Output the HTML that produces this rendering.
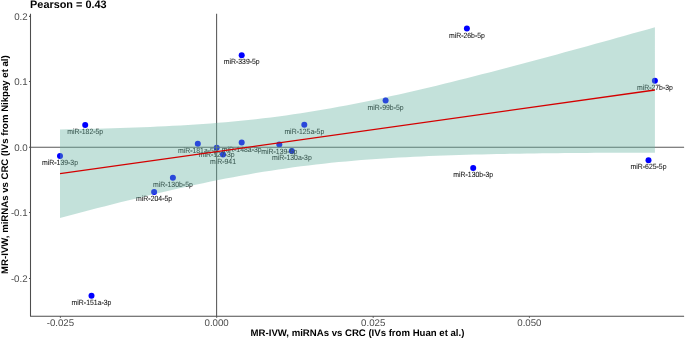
<!DOCTYPE html>
<html><head><meta charset="utf-8"><style>
html,body{margin:0;padding:0;background:#fff;width:685px;height:339px;overflow:hidden;font-family:"Liberation Sans",sans-serif;}
svg{display:block;will-change:transform}
</style></head><body>
<svg width="685" height="339" viewBox="0 0 685 339">
<rect width="685" height="339" fill="#fff"/>
<g text-rendering="geometricPrecision">
<g fill="#0000ff">
<circle cx="466.90" cy="28.40" r="3.0"/>
<circle cx="241.70" cy="55.30" r="3.0"/>
<circle cx="654.90" cy="80.80" r="3.0"/>
<circle cx="385.60" cy="100.50" r="3.0"/>
<circle cx="85.20" cy="124.90" r="3.0"/>
<circle cx="304.30" cy="124.80" r="3.0"/>
<circle cx="197.80" cy="143.70" r="3.0"/>
<circle cx="241.70" cy="142.40" r="3.0"/>
<circle cx="279.30" cy="144.40" r="3.0"/>
<circle cx="216.70" cy="147.80" r="3.0"/>
<circle cx="223.00" cy="154.40" r="3.0"/>
<circle cx="291.80" cy="150.90" r="3.0"/>
<circle cx="60.00" cy="156.10" r="3.0"/>
<circle cx="172.90" cy="177.70" r="3.0"/>
<circle cx="154.10" cy="192.10" r="3.0"/>
<circle cx="473.20" cy="167.90" r="3.0"/>
<circle cx="648.50" cy="160.20" r="3.0"/>
<circle cx="91.50" cy="295.80" r="3.0"/>
</g>
<g font-family="Liberation Sans" font-size="6.9" fill="#151515" stroke="#151515" stroke-width="0.06" text-anchor="middle">
<text transform="translate(466.90,37.50) scale(1,1.1)">miR<tspan stroke-width="0.22">-</tspan>26b<tspan stroke-width="0.22">-</tspan>5p</text>
<text transform="translate(241.70,64.40) scale(1,1.1)">miR<tspan stroke-width="0.22">-</tspan>339<tspan stroke-width="0.22">-</tspan>5p</text>
<text transform="translate(654.90,89.90) scale(1,1.1)">miR<tspan stroke-width="0.22">-</tspan>27b<tspan stroke-width="0.22">-</tspan>3p</text>
<text transform="translate(385.60,109.60) scale(1,1.1)">miR<tspan stroke-width="0.22">-</tspan>99b<tspan stroke-width="0.22">-</tspan>5p</text>
<text transform="translate(85.20,134.00) scale(1,1.1)">miR<tspan stroke-width="0.22">-</tspan>182<tspan stroke-width="0.22">-</tspan>5p</text>
<text transform="translate(304.30,133.90) scale(1,1.1)">miR<tspan stroke-width="0.22">-</tspan>125a<tspan stroke-width="0.22">-</tspan>5p</text>
<text transform="translate(197.80,152.80) scale(1,1.1)">miR<tspan stroke-width="0.22">-</tspan>181a<tspan stroke-width="0.22">-</tspan>5p</text>
<text transform="translate(241.70,151.50) scale(1,1.1)">miR<tspan stroke-width="0.22">-</tspan>148a<tspan stroke-width="0.22">-</tspan>3p</text>
<text transform="translate(279.30,153.50) scale(1,1.1)">miR<tspan stroke-width="0.22">-</tspan>139<tspan stroke-width="0.22">-</tspan>5p</text>
<text transform="translate(216.70,156.90) scale(1,1.1)">miR<tspan stroke-width="0.22">-</tspan>127<tspan stroke-width="0.22">-</tspan>3p</text>
<text transform="translate(223.00,163.50) scale(1,1.1)">miR<tspan stroke-width="0.22">-</tspan>941</text>
<text transform="translate(291.80,160.00) scale(1,1.1)">miR<tspan stroke-width="0.22">-</tspan>130a<tspan stroke-width="0.22">-</tspan>3p</text>
<text transform="translate(60.00,165.20) scale(1,1.1)">miR<tspan stroke-width="0.22">-</tspan>139<tspan stroke-width="0.22">-</tspan>3p</text>
<text transform="translate(172.90,186.80) scale(1,1.1)">miR<tspan stroke-width="0.22">-</tspan>130b<tspan stroke-width="0.22">-</tspan>5p</text>
<text transform="translate(154.10,201.20) scale(1,1.1)">miR<tspan stroke-width="0.22">-</tspan>204<tspan stroke-width="0.22">-</tspan>5p</text>
<text transform="translate(473.20,177.00) scale(1,1.1)">miR<tspan stroke-width="0.22">-</tspan>130b<tspan stroke-width="0.22">-</tspan>3p</text>
<text transform="translate(648.50,169.30) scale(1,1.1)">miR<tspan stroke-width="0.22">-</tspan>625<tspan stroke-width="0.22">-</tspan>5p</text>
<text transform="translate(91.50,304.90) scale(1,1.1)">miR<tspan stroke-width="0.22">-</tspan>151a<tspan stroke-width="0.22">-</tspan>3p</text>
</g>
<line x1="30.5" y1="147.3" x2="684.1" y2="147.3" stroke="#595959" stroke-width="1.07"/>
<line x1="216.6" y1="13.8" x2="216.6" y2="316.3" stroke="#595959" stroke-width="1.07"/>
<polygon points="60.00,129.45 67.53,129.32 75.06,129.18 82.59,129.02 90.12,128.85 97.65,128.67 105.18,128.47 112.71,128.26 120.24,128.03 127.77,127.78 135.30,127.51 142.83,127.22 150.36,126.91 157.89,126.57 165.43,126.20 172.96,125.81 180.49,125.39 188.02,124.94 195.55,124.46 203.08,123.94 210.61,123.38 218.14,122.78 225.67,122.15 233.20,121.47 240.73,120.74 248.26,119.98 255.79,119.16 263.32,118.29 270.85,117.38 278.38,116.41 285.91,115.39 293.44,114.33 300.97,113.21 308.50,112.03 316.03,110.81 323.56,109.54 331.09,108.22 338.62,106.86 346.15,105.44 353.68,103.99 361.22,102.49 368.75,100.95 376.28,99.38 383.81,97.77 391.34,96.12 398.87,94.44 406.40,92.73 413.93,91.00 421.46,89.23 428.99,87.44 436.52,85.63 444.05,83.79 451.58,81.94 459.11,80.06 466.64,78.17 474.17,76.26 481.70,74.33 489.23,72.39 496.76,70.43 504.29,68.46 511.82,66.48 519.35,64.49 526.88,62.49 534.41,60.47 541.94,58.45 549.47,56.42 557.01,54.38 564.54,52.33 572.07,50.27 579.60,48.21 587.13,46.14 594.66,44.06 602.19,41.98 609.72,39.89 617.25,37.80 624.78,35.70 632.31,33.60 639.84,31.49 647.37,29.38 654.90,27.26 654.90,152.73 647.37,152.73 639.84,152.74 632.31,152.75 624.78,152.76 617.25,152.78 609.72,152.81 602.19,152.84 594.66,152.87 587.13,152.92 579.60,152.97 572.07,153.02 564.54,153.08 557.01,153.15 549.47,153.23 541.94,153.32 534.41,153.41 526.88,153.52 519.35,153.63 511.82,153.76 504.29,153.89 496.76,154.04 489.23,154.20 481.70,154.38 474.17,154.57 466.64,154.78 459.11,155.00 451.58,155.25 444.05,155.51 436.52,155.79 428.99,156.10 421.46,156.43 413.93,156.78 406.40,157.16 398.87,157.57 391.34,158.01 383.81,158.48 376.28,158.99 368.75,159.53 361.22,160.11 353.68,160.73 346.15,161.40 338.62,162.10 331.09,162.86 323.56,163.66 316.03,164.50 308.50,165.40 300.97,166.35 293.44,167.35 285.91,168.39 278.38,169.50 270.85,170.65 263.32,171.85 255.79,173.10 248.26,174.41 240.73,175.75 233.20,177.15 225.67,178.59 218.14,180.07 210.61,181.59 203.08,183.16 195.55,184.75 188.02,186.39 180.49,188.05 172.96,189.75 165.43,191.48 157.89,193.23 150.36,195.01 142.83,196.82 135.30,198.65 127.77,200.49 120.24,202.36 112.71,204.25 105.18,206.16 97.65,208.08 90.12,210.01 82.59,211.96 75.06,213.93 67.53,215.90 60.00,217.89" fill="#69b3a2" fill-opacity="0.4"/>
<line x1="60.00" y1="173.67" x2="654.90" y2="90.00" stroke="#d40000" stroke-width="1.3"/>
<path d="M30.5,13.8 V316.3 H684.1" fill="none" stroke="#4d4d4d" stroke-width="1.07" stroke-linejoin="round"/>
<g stroke="#4d4d4d" stroke-width="1.07">
<line x1="60.40" y1="316.3" x2="60.40" y2="317.8"/>
<line x1="216.65" y1="316.3" x2="216.65" y2="317.8"/>
<line x1="373.20" y1="316.3" x2="373.20" y2="317.8"/>
<line x1="529.40" y1="316.3" x2="529.40" y2="317.8"/>
<line x1="29.0" y1="16.36" x2="30.5" y2="16.36"/>
<line x1="29.0" y1="81.50" x2="30.5" y2="81.50"/>
<line x1="29.0" y1="147.30" x2="30.5" y2="147.30"/>
<line x1="29.0" y1="212.55" x2="30.5" y2="212.55"/>
<line x1="29.0" y1="278.43" x2="30.5" y2="278.43"/>
</g>
<g font-family="Liberation Sans" font-size="9.7" fill="#4d4d4d">
<text x="60.40" y="326.0" text-anchor="middle">-0.025</text>
<text x="216.65" y="326.0" text-anchor="middle">0.000</text>
<text x="373.20" y="326.0" text-anchor="middle">0.025</text>
<text x="529.40" y="326.0" text-anchor="middle">0.050</text>
<text x="27.6" y="19.81" text-anchor="end">0.2</text>
<text x="27.6" y="84.95" text-anchor="end">0.1</text>
<text x="27.6" y="150.75" text-anchor="end">0.0</text>
<text x="27.6" y="216.00" text-anchor="end">-0.1</text>
<text x="27.6" y="281.88" text-anchor="end">-0.2</text>
</g>
<text x="357.5" y="336.1" font-family="Liberation Sans" font-weight="bold" font-size="9.6" fill="#000" text-anchor="middle">MR-IVW, miRNAs vs CRC (IVs from Huan et al.)</text>
<text transform="translate(7.7,164.6) rotate(-90)" font-family="Liberation Sans" font-weight="bold" font-size="9.6" fill="#000" text-anchor="middle">MR-IVW, miRNAs vs CRC (IVs from Nikpay et al)</text>
<text x="30.1" y="7.9" font-family="Liberation Sans" font-weight="bold" font-size="10.88" fill="#000">Pearson = 0.43</text>
</g>
</svg>
</body></html>
